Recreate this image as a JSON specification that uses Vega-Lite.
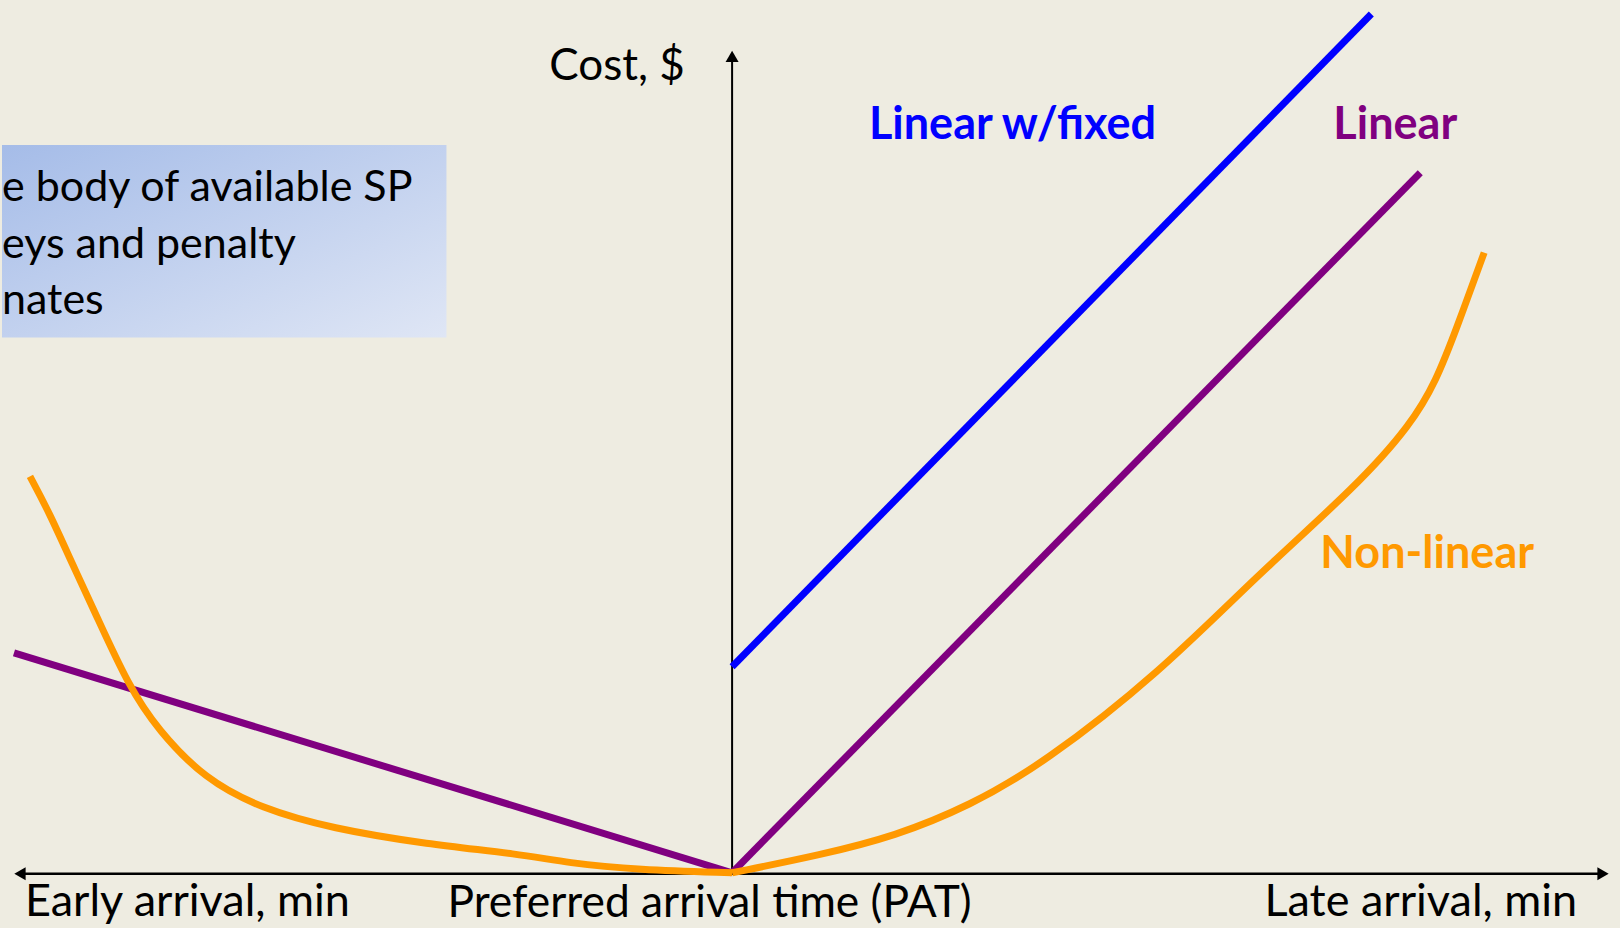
{
  "$schema": "https://vega.github.io/schema/vega-lite/v6.json",
  "width": 1620,
  "height": 928,
  "autosize": {"type": "fit", "contains": "padding"},
  "padding": 0,
  "background": "#EEECE1",
  "config": {"view": {"stroke": null}, "text": {"font": "Lato"}},
  "data": {"values": [{}]},
  "datasets": {
    "curves": [
      {"series": "Linear w/fixed", "curve": "fixed-late", "t": 0, "cost": 210},
      {"series": "Linear w/fixed", "curve": "fixed-late", "t": 640, "cost": 872},
      {"series": "Linear", "curve": "linear-early", "t": -719, "cost": 224},
      {"series": "Linear", "curve": "linear-early", "t": 0, "cost": 1},
      {"series": "Linear", "curve": "linear-late", "t": 0, "cost": 1},
      {"series": "Linear", "curve": "linear-late", "t": 689, "cost": 711},
      {"series": "Non-linear", "curve": "nonlinear-early", "t": -703, "cost": 403},
      {"series": "Non-linear", "curve": "nonlinear-early", "t": -684, "cost": 367},
      {"series": "Non-linear", "curve": "nonlinear-early", "t": -660, "cost": 313},
      {"series": "Non-linear", "curve": "nonlinear-early", "t": -637, "cost": 263},
      {"series": "Non-linear", "curve": "nonlinear-early", "t": -604, "cost": 190},
      {"series": "Non-linear", "curve": "nonlinear-early", "t": -575, "cost": 146},
      {"series": "Non-linear", "curve": "nonlinear-early", "t": -528, "cost": 96},
      {"series": "Non-linear", "curve": "nonlinear-early", "t": -471, "cost": 66},
      {"series": "Non-linear", "curve": "nonlinear-early", "t": -401, "cost": 46},
      {"series": "Non-linear", "curve": "nonlinear-early", "t": -306, "cost": 30},
      {"series": "Non-linear", "curve": "nonlinear-early", "t": -212, "cost": 20},
      {"series": "Non-linear", "curve": "nonlinear-early", "t": -165, "cost": 11},
      {"series": "Non-linear", "curve": "nonlinear-early", "t": -94, "cost": 4},
      {"series": "Non-linear", "curve": "nonlinear-early", "t": 0, "cost": 1},
      {"series": "Non-linear", "curve": "nonlinear-late", "t": 0, "cost": 1},
      {"series": "Non-linear", "curve": "nonlinear-late", "t": 88, "cost": 19},
      {"series": "Non-linear", "curve": "nonlinear-late", "t": 163, "cost": 38},
      {"series": "Non-linear", "curve": "nonlinear-late", "t": 238, "cost": 69},
      {"series": "Non-linear", "curve": "nonlinear-late", "t": 312, "cost": 112},
      {"series": "Non-linear", "curve": "nonlinear-late", "t": 427, "cost": 203},
      {"series": "Non-linear", "curve": "nonlinear-late", "t": 526, "cost": 303},
      {"series": "Non-linear", "curve": "nonlinear-late", "t": 626, "cost": 394},
      {"series": "Non-linear", "curve": "nonlinear-late", "t": 680, "cost": 456},
      {"series": "Non-linear", "curve": "nonlinear-late", "t": 705, "cost": 500},
      {"series": "Non-linear", "curve": "nonlinear-late", "t": 725, "cost": 552},
      {"series": "Non-linear", "curve": "nonlinear-late", "t": 753, "cost": 630}
    ]
  },
  "layer": [
    {
      "mark": {"type": "rect", "color": {"gradient": "linear", "x1": 0, "y1": 0, "x2": 1, "y2": 1, "stops": [{"offset": 0, "color": "#A5BCE8"}, {"offset": 1, "color": "#DFE6F5"}]}},
      "encoding": {
        "x": {"datum": -731, "type": "quantitative", "scale": {"domain": [-731, 889], "nice": false, "zero": false}, "axis": null},
        "x2": {"datum": -286},
        "y": {"datum": 739, "type": "quantitative", "scale": {"domain": [-55, 873], "nice": false, "zero": false}, "axis": null},
        "y2": {"datum": 544}
      }
    },
    {
      "mark": {"type": "text", "align": "left", "baseline": "alphabetic", "fontSize": 43, "color": "#000000"},
      "encoding": {"x": {"datum": -731, "type": "quantitative"}, "y": {"datum": 682, "type": "quantitative"}, "text": {"value": "e body of available SP"}}
    },
    {
      "mark": {"type": "text", "align": "left", "baseline": "alphabetic", "fontSize": 43, "color": "#000000"},
      "encoding": {"x": {"datum": -731, "type": "quantitative"}, "y": {"datum": 625, "type": "quantitative"}, "text": {"value": "eys and penalty"}}
    },
    {
      "mark": {"type": "text", "align": "left", "baseline": "alphabetic", "fontSize": 43, "color": "#000000"},
      "encoding": {"x": {"datum": -731, "type": "quantitative"}, "y": {"datum": 568, "type": "quantitative"}, "text": {"value": "nates"}}
    },
    {
      "mark": {"type": "rule", "color": "#000000", "strokeWidth": 2.5},
      "encoding": {"x": {"datum": -712, "type": "quantitative"}, "x2": {"datum": 872}, "y": {"datum": 0, "type": "quantitative"}}
    },
    {
      "mark": {"type": "rule", "color": "#000000", "strokeWidth": 2},
      "encoding": {"x": {"datum": 0, "type": "quantitative"}, "y": {"datum": 0, "type": "quantitative"}, "y2": {"datum": 829}}
    },
    {
      "mark": {"type": "point", "shape": "triangle-left", "filled": true, "color": "#000000", "size": 170, "opacity": 1},
      "encoding": {"x": {"datum": -713, "type": "quantitative"}, "y": {"datum": 0, "type": "quantitative"}}
    },
    {
      "mark": {"type": "point", "shape": "triangle-right", "filled": true, "color": "#000000", "size": 170, "opacity": 1},
      "encoding": {"x": {"datum": 872, "type": "quantitative"}, "y": {"datum": 0, "type": "quantitative"}}
    },
    {
      "mark": {"type": "point", "shape": "triangle-up", "filled": true, "color": "#000000", "size": 170, "opacity": 1},
      "encoding": {"x": {"datum": 0, "type": "quantitative"}, "y": {"datum": 829, "type": "quantitative"}}
    },
    {
      "data": {"name": "curves"},
      "mark": {"type": "line", "strokeWidth": 7, "strokeCap": "butt", "interpolate": "basis"},
      "encoding": {
        "x": {"field": "t", "type": "quantitative"},
        "y": {"field": "cost", "type": "quantitative"},
        "detail": {"field": "curve"},
        "color": {"field": "series", "type": "nominal", "legend": null, "scale": {"domain": ["Linear w/fixed", "Linear", "Non-linear"], "range": ["#0000FF", "#800080", "#FF9900"]}},
        "order": {"field": "t", "type": "quantitative"}
      }
    },
    {
      "mark": {"type": "text", "align": "left", "baseline": "alphabetic", "fontSize": 44, "color": "#000000"},
      "encoding": {"x": {"datum": -183, "type": "quantitative"}, "y": {"datum": 805, "type": "quantitative"}, "text": {"value": "Cost, $"}}
    },
    {
      "mark": {"type": "text", "align": "left", "baseline": "alphabetic", "fontSize": 45, "color": "#000000"},
      "encoding": {"x": {"datum": -708, "type": "quantitative"}, "y": {"datum": -43, "type": "quantitative"}, "text": {"value": "Early arrival, min"}}
    },
    {
      "mark": {"type": "text", "align": "left", "baseline": "alphabetic", "fontSize": 44.3, "color": "#000000"},
      "encoding": {"x": {"datum": -285, "type": "quantitative"}, "y": {"datum": -44, "type": "quantitative"}, "text": {"value": "Preferred arrival time (PAT)"}}
    },
    {
      "mark": {"type": "text", "align": "left", "baseline": "alphabetic", "fontSize": 45, "color": "#000000"},
      "encoding": {"x": {"datum": 533, "type": "quantitative"}, "y": {"datum": -43, "type": "quantitative"}, "text": {"value": "Late arrival, min"}}
    },
    {
      "mark": {"type": "text", "align": "left", "baseline": "alphabetic", "fontSize": 45, "fontWeight": "bold", "color": "#0000FF"},
      "encoding": {"x": {"datum": 137, "type": "quantitative"}, "y": {"datum": 745, "type": "quantitative"}, "text": {"value": "Linear w/fixed"}}
    },
    {
      "mark": {"type": "text", "align": "left", "baseline": "alphabetic", "fontSize": 45, "fontWeight": "bold", "color": "#800080"},
      "encoding": {"x": {"datum": 602, "type": "quantitative"}, "y": {"datum": 745, "type": "quantitative"}, "text": {"value": "Linear"}}
    },
    {
      "mark": {"type": "text", "align": "left", "baseline": "alphabetic", "fontSize": 45, "fontWeight": "bold", "color": "#FF9900"},
      "encoding": {"x": {"datum": 589, "type": "quantitative"}, "y": {"datum": 310, "type": "quantitative"}, "text": {"value": "Non-linear"}}
    }
  ]
}
